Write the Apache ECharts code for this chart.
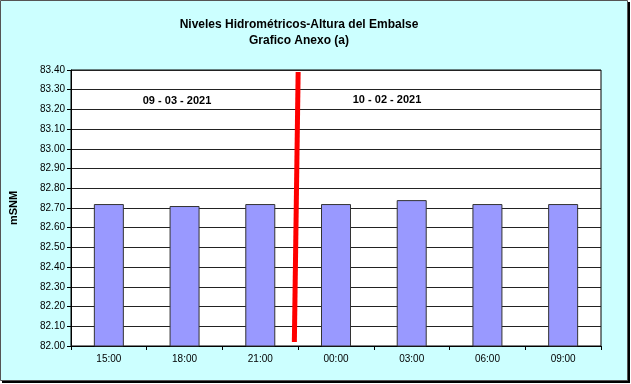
<!DOCTYPE html>
<html><head><meta charset="utf-8">
<script src="https://cdn.jsdelivr.net/npm/echarts@6/dist/echarts.min.js"></script>
<style>html,body{margin:0;padding:0;background:#fff}#c{width:631px;height:384px}</style>
</head><body><div id="c"></div>
<script>
const categories = ['15:00','18:00','21:00','00:00','03:00','06:00','09:00'];
const levels = [82.72, 82.71, 82.72, 82.72, 82.74, 82.72, 82.72];
const dividerLine = [[3.0, 83.39], [2.95, 82.02]];
const dateLabels = ['09 - 03 - 2021', '10 - 02 - 2021'];
const titleLines = ['Niveles Hidrométricos-Altura del Embalse', 'Grafico Anexo (a)'];

const chart = echarts.init(document.getElementById('c'), null, {renderer:'canvas'});
const font = 'Arial, "Liberation Sans", sans-serif';
chart.setOption({
  animation: false,
  backgroundColor: 'transparent',
  graphic: [
    {type:'rect', z:-10, silent:true, shape:{x:2,y:2,width:628,height:381}, style:{fill:'#000'}},
    {type:'rect', z:-9, silent:true, shape:{x:0.5,y:0.5,width:627,height:380}, style:{fill:'#CCFFFF', stroke:'#555', lineWidth:1}},
    {type:'text', left:'center', top:0, z:10, style:{text:'', fill:'#000'}},
    {type:'text', x:299, y:25, z:10, style:{text:titleLines[0], font:'bold 12px '+font, fill:'#000', textAlign:'center', textVerticalAlign:'middle'}},
    {type:'text', x:299, y:41, z:10, style:{text:titleLines[1], font:'bold 12px '+font, fill:'#000', textAlign:'center', textVerticalAlign:'middle'}},
    {type:'text', x:177, y:101, z:10, style:{text:dateLabels[0], font:'bold 11px '+font, fill:'#000', textAlign:'center', textVerticalAlign:'middle'}},
    {type:'text', x:387, y:100, z:10, style:{text:dateLabels[1], font:'bold 11px '+font, fill:'#000', textAlign:'center', textVerticalAlign:'middle'}}
  ],
  grid: {left:69, right:30, top:70, bottom:38, show:true, backgroundColor:'#fff', borderColor:'#000', borderWidth:1},
  xAxis: [{
    type:'category', data:categories, boundaryGap:true,
    axisLine:{show:true, lineStyle:{color:'#000', width:1}},
    axisTick:{show:true, alignWithLabel:false, length:4, lineStyle:{color:'#000'}},
    axisLabel:{color:'#000', fontSize:10, fontFamily:font, margin:8},
    splitLine:{show:false}
  },{
    type:'value', min:0, max:7, show:false
  }],
  yAxis: [{
    type:'value', min:82.0, max:83.4, interval:0.1,
    name:'mSNM', nameLocation:'middle', nameGap:52, nameRotate:90,
    nameTextStyle:{color:'#000', fontSize:11, fontWeight:'bold', fontFamily:font},
    axisLine:{show:true, lineStyle:{color:'#000'}},
    axisTick:{show:true, length:4, inside:false, lineStyle:{color:'#000'}},
    axisLabel:{color:'#000', fontSize:10, fontFamily:font, margin:6, formatter:v=>v.toFixed(2)},
    splitLine:{show:true, lineStyle:{color:'#222', width:1}}
  }],
  series: [{
    type:'bar', data:levels, barWidth:30, xAxisIndex:0, yAxisIndex:0,
    itemStyle:{color:'#9999FF', borderColor:'#333', borderWidth:1}
  },{
    type:'line', data:dividerLine, xAxisIndex:1, yAxisIndex:0, symbol:'none',
    lineStyle:{color:'#FF0000', width:5}, z:5
  }]
});
</script></body></html>
